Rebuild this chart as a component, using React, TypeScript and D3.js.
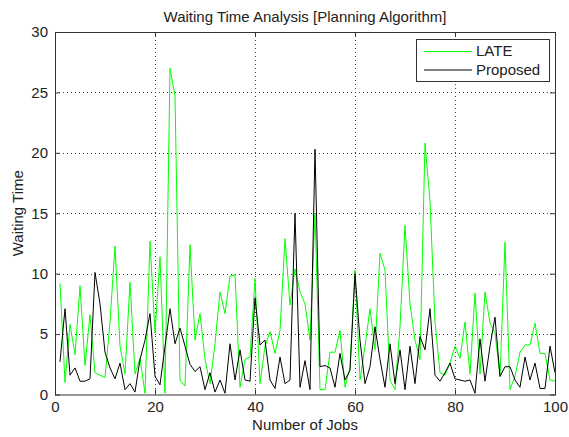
import React, { useEffect, useRef } from 'react';
import * as d3 from 'd3';

// waiting time per job
const lateTimes = [
  9.2, 1.0, 5.8, 3.3, 9.0, 2.4, 6.6, 1.8, 1.6, 1.4,
  6.0, 12.3, 4.0, 1.7, 9.3, 1.7, 3.0, 0.1, 12.7, 5.1,
  11.4, 0.1, 27.0, 24.7, 1.2, 0.7, 12.4, 4.5, 6.7, 2.9,
  0.9, 4.2, 8.5, 6.7, 9.8, 9.9, 0.6, 2.9, 3.1, 9.6,
  0.9, 4.0, 5.2, 3.4, 5.3, 12.9, 7.4, 10.4, 8.5, 7.5,
  4.5, 15.0, 0.4, 0.4, 3.5, 3.5, 5.3, 0.6, 2.3, 10.3,
  1.2, 4.0, 7.1, 3.7, 11.7, 10.3, 1.2, 0.4, 5.6, 14.0,
  7.5, 4.5, 2.9, 20.8, 16.0, 6.0, 1.8, 1.6, 2.6, 4.0,
  3.0, 6.0, 1.7, 8.4, 1.7, 8.5, 5.9, 5.1, 1.5, 12.6,
  0.4, 1.5, 3.5, 4.1, 4.1, 5.9, 3.4, 3.4, 1.2, 1.1
];
const proposedTimes = [
  2.7, 7.1, 1.6, 2.2, 1.1, 1.1, 1.3, 10.1, 7.5, 3.5,
  2.2, 1.3, 2.6, 0.4, 0.9, 0.2, 2.9, 4.5, 6.7, 1.5,
  0.8, 4.0, 7.1, 4.2, 5.5, 4.0, 2.5, 1.9, 2.3, 0.4,
  1.8, 0.2, 1.2, 0.1, 4.2, 1.2, 3.7, 1.2, 1.1, 8.0,
  4.1, 4.5, 1.2, 0.5, 3.1, 0.9, 1.2, 15.0, 0.6, 2.8,
  0.4, 20.3, 2.3, 2.4, 2.2, 0.6, 3.4, 1.2, 2.0, 10.0,
  4.5, 0.9, 2.3, 5.6, 2.9, 0.6, 4.2, 0.9, 3.7, 0.4,
  4.0, 0.9, 4.8, 3.7, 7.1, 1.6, 1.1, 1.8, 2.6, 1.3,
  1.2, 1.1, 1.2, 0.1, 4.6, 1.1, 4.0, 6.4, 1.5, 2.3,
  2.3, 1.2, 0.6, 3.1, 1.2, 2.6, 0.5, 0.5, 4.0, 1.8
];
const seriesNames = ['LATE', 'Proposed'];
const seriesColors = ['#00ff00', '#000000'];
const xTicks = [0, 20, 40, 60, 80, 100];
const yTicks = [0, 5, 10, 15, 20, 25, 30];

const App = () => {
  const chartRef = useRef<HTMLDivElement>(null);
  const W = 569, H = 437;
  const margin = { top: 32, right: 14, bottom: 42.5, left: 55 };
  const width = W - margin.left - margin.right;
  const height = H - margin.top - margin.bottom;
  const font = 'Arial, "Liberation Sans", Helvetica, sans-serif';
  const fs = 15;

  useEffect(() => {
    const root = d3.select(chartRef.current);
    root.selectAll('*').remove();

    const x = d3.scaleLinear().domain([0, 100]).range([0, width]);
    const y = d3.scaleLinear().domain([0, 30]).range([height, 0]);

    const svg = root.append('svg')
      .attr('width', W)
      .attr('height', H)
      .style('display', 'block')
      .style('background', '#fff');

    const g = svg.append('g')
      .attr('transform', `translate(${margin.left},${margin.top})`);

    // dotted grid
    g.append('g').selectAll('line').data(xTicks.slice(1, -1)).join('line')
      .attr('x1', d => Math.round(x(d)) + 0.5).attr('x2', d => Math.round(x(d)) + 0.5)
      .attr('y1', 0).attr('y2', height)
      .attr('stroke', '#444').attr('stroke-dasharray', '1,3');
    g.append('g').selectAll('line').data(yTicks.slice(1, -1)).join('line')
      .attr('y1', d => Math.round(y(d)) + 0.5).attr('y2', d => Math.round(y(d)) + 0.5)
      .attr('x1', 0).attr('x2', width)
      .attr('stroke', '#444').attr('stroke-dasharray', '1,3');

    // lines
    const line = d3.line<number>()
      .x((d, i) => x(i + 1))
      .y(d => y(d));
    [lateTimes, proposedTimes].forEach((vals, k) => {
      g.append('path')
        .datum(vals)
        .attr('fill', 'none')
        .attr('stroke', seriesColors[k])
        .attr('stroke-width', 1)
        .attr('d', line);
    });

    // axes (ticks inward, mirrored on top/right)
    const tickLen = 5;
    const axisColor = '#333';
    const styleAxis = (sel: any, showLabels: boolean) => {
      sel.select('.domain').remove();
      sel.selectAll('line').attr('stroke', axisColor);
      sel.selectAll('text')
        .attr('fill', '#222')
        .style('font-family', font)
        .style('font-size', fs + 'px')
        .style('display', showLabels ? null : 'none');
    };
    g.append('g').attr('transform', `translate(0,${height})`)
      .call(d3.axisBottom(x).tickValues(xTicks).tickSizeInner(-tickLen).tickPadding(7))
      .call((s: any) => styleAxis(s, true));
    g.append('g')
      .call(d3.axisTop(x).tickValues(xTicks).tickSizeInner(-tickLen))
      .call((s: any) => styleAxis(s, false));
    g.append('g')
      .call(d3.axisLeft(y).tickValues(yTicks).tickSizeInner(-tickLen).tickPadding(7))
      .call((s: any) => styleAxis(s, true));
    g.append('g').attr('transform', `translate(${width},0)`)
      .call(d3.axisRight(y).tickValues(yTicks).tickSizeInner(-tickLen))
      .call((s: any) => styleAxis(s, false));

    // box
    g.append('rect')
      .attr('x', 0.5).attr('y', 0.5)
      .attr('width', width).attr('height', height)
      .attr('fill', 'none').attr('stroke', axisColor);

    // title and labels
    svg.append('text')
      .attr('x', margin.left + width / 2).attr('y', 22)
      .attr('text-anchor', 'middle')
      .style('font-family', font).style('font-size', fs + 'px').attr('fill', '#222')
      .text('Waiting Time Analysis [Planning Algorithm]');
    svg.append('text')
      .attr('x', margin.left + width / 2).attr('y', 430)
      .attr('text-anchor', 'middle')
      .style('font-family', font).style('font-size', fs + 'px').attr('fill', '#222')
      .text('Number of Jobs');
    svg.append('text')
      .attr('transform', `translate(23,${margin.top + height / 2}) rotate(-90)`)
      .attr('text-anchor', 'middle')
      .style('font-family', font).style('font-size', fs + 'px').attr('fill', '#222')
      .text('Waiting Time');

    // legend
    const leg = svg.append('g').attr('transform', 'translate(416,39)');
    leg.append('rect')
      .attr('x', 0.5).attr('y', 0.5).attr('width', 133).attr('height', 42)
      .attr('fill', '#fff').attr('stroke', axisColor);
    seriesNames.forEach((name, k) => {
      const ly = 12 + k * 18.5;
      leg.append('line')
        .attr('x1', 8).attr('x2', 56).attr('y1', ly + 0.5).attr('y2', ly + 0.5)
        .attr('stroke', seriesColors[k]);
      leg.append('text')
        .attr('x', 60).attr('y', ly).attr('dy', '0.35em')
        .style('font-family', font).style('font-size', fs + 'px').attr('fill', '#222')
        .text(name);
    });
  }, []);

  return (
    <div style={{ position: 'absolute', left: 0, top: 0 }}>
      <div ref={chartRef} />
    </div>
  );
};

export default App;
